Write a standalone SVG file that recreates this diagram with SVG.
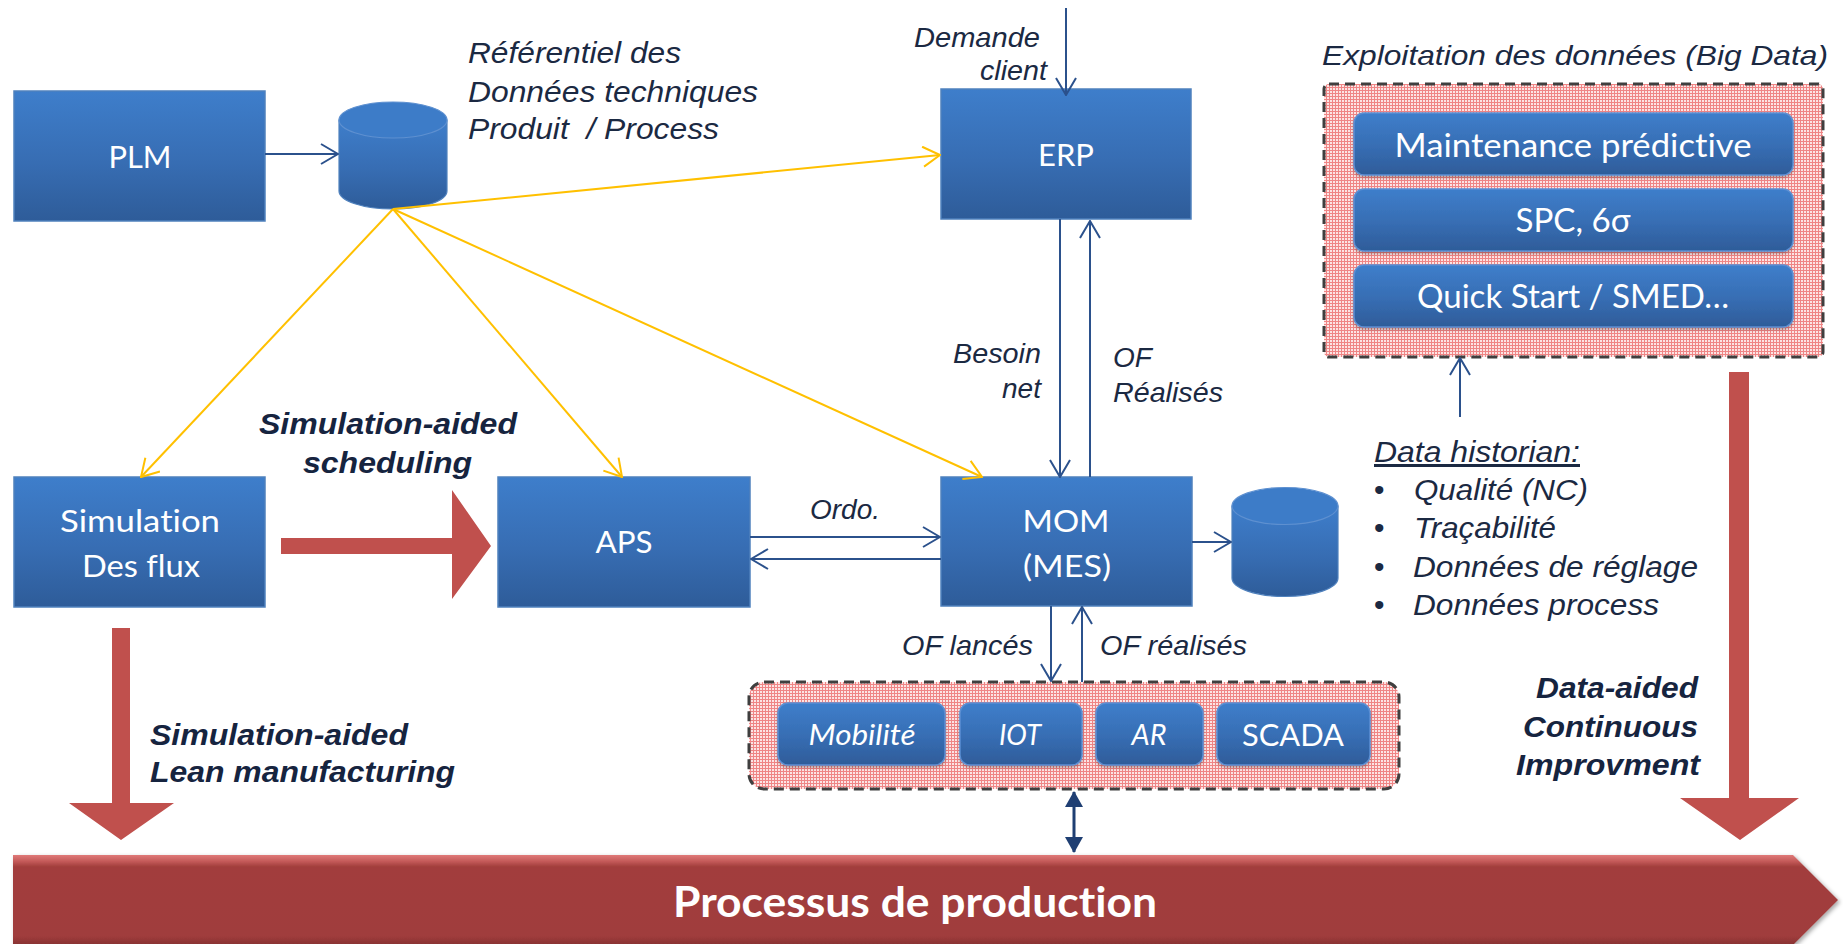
<svg xmlns="http://www.w3.org/2000/svg" width="1843" height="944" viewBox="0 0 1843 944">
  <style>
    .box { fill: url(#blueGrad); stroke: #4F81BD; stroke-width: 1.5; }
    .pill { fill: url(#blueGrad); stroke: #5B8FD3; stroke-width: 1.5; filter: url(#soft); }
    .cylBody { fill: url(#blueGrad); stroke: #4F81BD; stroke-width: 1.2; }
    .cylTop { fill: #3D7CC8; stroke: #5E90D0; stroke-width: 1.2; }
    .lbl { font-family: Lato, "Open Sans", sans-serif; fill: #FFFFFF; text-anchor: middle; font-variant-ligatures: none; }
    .note { font-family: "Liberation Sans", Arial, sans-serif; font-style: italic; fill: #1B2942; }
    .strong { font-family: "Liberation Sans", Arial, sans-serif; font-style: italic; font-weight: bold; fill: #16243F; }
    .blue { fill: none; stroke: #2B518C; stroke-width: 2; }
    .gold { fill: none; stroke: #FFC000; stroke-width: 2; }
    .zone { fill: url(#hatch); stroke: #3F3F3F; stroke-width: 3; stroke-dasharray: 10 6; }
    .red { fill: #C0504D; }
  </style>
  <defs>
    <linearGradient id="blueGrad" x1="0" y1="0" x2="0" y2="1">
      <stop offset="0" stop-color="#3E7ECB"/>
      <stop offset="0.55" stop-color="#376DB3"/>
      <stop offset="1" stop-color="#2E5C99"/>
    </linearGradient>
    <linearGradient id="barGrad" x1="0" y1="0" x2="0" y2="1">
      <stop offset="0" stop-color="#E07A79"/>
      <stop offset="0.07" stop-color="#C45A59"/>
      <stop offset="0.13" stop-color="#A23E3D"/>
      <stop offset="0.9" stop-color="#A03C3C"/>
      <stop offset="1" stop-color="#873232"/>
    </linearGradient>
    <pattern id="hatch" width="3" height="3" patternUnits="userSpaceOnUse">
      <rect width="3" height="3" fill="#FCE4E4"/>
      <rect width="3" height="1" fill="#EF8585"/>
      <rect width="1" height="3" fill="#EF8585"/>
    </pattern>
    <filter id="soft" x="-5%" y="-10%" width="110%" height="130%">
      <feDropShadow dx="0" dy="2" stdDeviation="1.5" flood-color="#000000" flood-opacity="0.3"/>
    </filter>
    <filter id="barShadow" x="-2%" y="-10%" width="104%" height="130%">
      <feDropShadow dx="2" dy="2" stdDeviation="2" flood-color="#000000" flood-opacity="0.35"/>
    </filter>
    <marker id="openBlue" viewBox="0 0 19 22" refX="18" refY="11" markerWidth="19" markerHeight="22" markerUnits="userSpaceOnUse" orient="auto">
      <path d="M1,1 L18,11 L1,21" fill="none" stroke="#2B518C" stroke-width="2"/>
    </marker>
    <marker id="openGold" viewBox="0 0 19 22" refX="18" refY="11" markerWidth="19" markerHeight="22" markerUnits="userSpaceOnUse" orient="auto">
      <path d="M1,1 L18,11 L1,21" fill="none" stroke="#FFC000" stroke-width="2"/>
    </marker>
    <marker id="solidNavy" viewBox="0 0 16 18" refX="15" refY="9" markerWidth="16" markerHeight="18" markerUnits="userSpaceOnUse" orient="auto-start-reverse">
      <path d="M0,0 L16,9 L0,18 Z" fill="#1F3F73"/>
    </marker>
  </defs>

  <rect width="1843" height="944" fill="#FFFFFF"/>

  <!-- dashed grouping zones -->
  <g id="bigdata-zone">
    <rect class="zone" x="1324" y="84" width="499" height="273" rx="5"/>
  </g>
  <g id="field-zone">
    <rect class="zone" x="749" y="682" width="650" height="107" rx="15"/>
  </g>

  <!-- production process bar -->
  <g id="production">
    <polygon points="13,855 1793,855 1838,900 1793,945 13,945" fill="url(#barGrad)" filter="url(#barShadow)"/>
    <text x="915" y="917" class="lbl" font-size="42" font-weight="bold" textLength="484" lengthAdjust="spacingAndGlyphs">Processus de production</text>
  </g>

  <!-- wide red arrows -->
  <g id="flow-arrows">
    <polygon class="red" points="281,538 452,538 452,490 491,546 452,599 452,554 281,554"/>
    <polygon class="red" points="112,628 130,628 130,803 174,803 121,840 69,803 112,803"/>
    <polygon class="red" points="1729,372 1749,372 1749,798 1799,798 1740,840 1680,798 1729,798"/>
  </g>

  <!-- nodes -->
  <g id="plm">
    <rect class="box" x="14" y="91" width="251" height="130"/>
    <text x="140" y="168" class="lbl" font-size="30" textLength="63" lengthAdjust="spacingAndGlyphs">PLM</text>
  </g>
  <g id="db-technical">
    <path class="cylBody" d="M339,120 L339,191 A54,18 0 0 0 447,191 L447,120 Z"/>
    <ellipse class="cylTop" cx="393" cy="120" rx="54" ry="18"/>
  </g>
  <g id="erp">
    <rect class="box" x="941" y="89" width="250" height="130"/>
    <text x="1066" y="166" class="lbl" font-size="30" textLength="56" lengthAdjust="spacingAndGlyphs">ERP</text>
  </g>
  <g id="simulation">
    <rect class="box" x="14" y="477" width="251" height="130"/>
    <text x="140" y="532" class="lbl" font-size="30" textLength="160" lengthAdjust="spacingAndGlyphs">Simulation</text>
    <text x="141" y="577" class="lbl" font-size="30" textLength="118" lengthAdjust="spacingAndGlyphs">Des flux</text>
  </g>
  <g id="aps">
    <rect class="box" x="498" y="477" width="252" height="130"/>
    <text x="624" y="553" class="lbl" font-size="30" textLength="57" lengthAdjust="spacingAndGlyphs">APS</text>
  </g>
  <g id="mom">
    <rect class="box" x="941" y="477" width="251" height="129"/>
    <text x="1066" y="532" class="lbl" font-size="30" textLength="87" lengthAdjust="spacingAndGlyphs">MOM</text>
    <text x="1067" y="577" class="lbl" font-size="30" textLength="88" lengthAdjust="spacingAndGlyphs">(MES)</text>
  </g>
  <g id="db-historian">
    <path class="cylBody" d="M1232,506 L1232,578 A53,18.5 0 0 0 1338,578 L1338,506 Z"/>
    <ellipse class="cylTop" cx="1285" cy="506" rx="53" ry="18.5"/>
  </g>
  <g id="maintenance">
    <rect class="pill" x="1354" y="113" width="439" height="62" rx="10"/>
    <text x="1573" y="157" class="lbl" font-size="32" textLength="357" lengthAdjust="spacingAndGlyphs">Maintenance prédictive</text>
  </g>
  <g id="spc">
    <rect class="pill" x="1354" y="189" width="439" height="62" rx="10"/>
    <text x="1573" y="232" class="lbl" font-size="32" textLength="115" lengthAdjust="spacingAndGlyphs">SPC, 6σ</text>
  </g>
  <g id="smed">
    <rect class="pill" x="1354" y="265" width="439" height="62" rx="10"/>
    <text x="1573" y="308" class="lbl" font-size="32" textLength="312" lengthAdjust="spacingAndGlyphs">Quick Start / SMED…</text>
  </g>
  <g id="mobilite">
    <rect class="pill" x="778" y="703" width="167" height="62" rx="10"/>
    <text x="862" y="745" class="lbl" font-size="28" font-style="italic" textLength="107" lengthAdjust="spacingAndGlyphs">Mobilité</text>
  </g>
  <g id="iot">
    <rect class="pill" x="960" y="703" width="122" height="62" rx="10"/>
    <text x="1020" y="745" class="lbl" font-size="28" font-style="italic" textLength="42" lengthAdjust="spacingAndGlyphs">IOT</text>
  </g>
  <g id="ar">
    <rect class="pill" x="1096" y="703" width="107" height="62" rx="10"/>
    <text x="1149" y="745" class="lbl" font-size="28" font-style="italic" textLength="35" lengthAdjust="spacingAndGlyphs">AR</text>
  </g>
  <g id="scada">
    <rect class="pill" x="1217" y="703" width="153" height="62" rx="10"/>
    <text x="1293" y="746" class="lbl" font-size="31" textLength="102" lengthAdjust="spacingAndGlyphs">SCADA</text>
  </g>

  <!-- connectors -->
  <g id="connectors">
    <line class="gold" x1="393" y1="209" x2="940" y2="155" marker-end="url(#openGold)"/>
    <line class="gold" x1="393" y1="209" x2="141" y2="477" marker-end="url(#openGold)"/>
    <line class="gold" x1="393" y1="209" x2="622" y2="477" marker-end="url(#openGold)"/>
    <line class="gold" x1="393" y1="209" x2="982" y2="477" marker-end="url(#openGold)"/>

    <line class="blue" x1="265" y1="154" x2="338" y2="154" marker-end="url(#openBlue)"/>
    <line class="blue" x1="1066" y1="8" x2="1066" y2="95" marker-end="url(#openBlue)"/>
    <line class="blue" x1="1060" y1="219" x2="1060" y2="477" marker-end="url(#openBlue)"/>
    <line class="blue" x1="1090" y1="477" x2="1090" y2="221" marker-end="url(#openBlue)"/>
    <line class="blue" x1="750" y1="537" x2="940" y2="537" marker-end="url(#openBlue)"/>
    <line class="blue" x1="941" y1="559" x2="751" y2="559" marker-end="url(#openBlue)"/>
    <line class="blue" x1="1192" y1="542" x2="1231" y2="542" marker-end="url(#openBlue)"/>
    <line class="blue" x1="1051" y1="606" x2="1051" y2="681" marker-end="url(#openBlue)"/>
    <line class="blue" x1="1082" y1="682" x2="1082" y2="607" marker-end="url(#openBlue)"/>
    <line class="blue" x1="1460" y1="417" x2="1460" y2="358" marker-end="url(#openBlue)"/>
    <line x1="1074" y1="792" x2="1074" y2="852" stroke="#1F3F73" stroke-width="3" marker-start="url(#solidNavy)" marker-end="url(#solidNavy)"/>
  </g>

  <!-- annotations -->
  <g id="labels">
    <text class="note" font-size="29" x="468" y="63" textLength="213" lengthAdjust="spacingAndGlyphs">Référentiel des</text>
    <text class="note" font-size="29" x="468" y="102" textLength="290" lengthAdjust="spacingAndGlyphs">Données techniques</text>
    <text class="note" font-size="29" x="468" y="139" textLength="251" lengthAdjust="spacingAndGlyphs" xml:space="preserve">Produit  / Process</text>

    <text class="note" font-size="28" x="914" y="47" textLength="126" lengthAdjust="spacingAndGlyphs">Demande</text>
    <text class="note" font-size="28" x="980" y="80" textLength="67" lengthAdjust="spacingAndGlyphs">client</text>

    <text class="note" font-size="28" x="1322" y="65" textLength="506" lengthAdjust="spacingAndGlyphs">Exploitation des données (Big Data)</text>

    <text class="note" font-size="28" x="953" y="363" textLength="88" lengthAdjust="spacingAndGlyphs">Besoin</text>
    <text class="note" font-size="28" x="1002" y="398" textLength="39" lengthAdjust="spacingAndGlyphs">net</text>
    <text class="note" font-size="28" x="1113" y="367">OF</text>
    <text class="note" font-size="28" x="1113" y="402" textLength="110" lengthAdjust="spacingAndGlyphs">Réalisés</text>

    <text class="note" font-size="27" x="810" y="519" textLength="70" lengthAdjust="spacingAndGlyphs">Ordo.</text>

    <text class="note" font-size="28" x="902" y="655" textLength="131" lengthAdjust="spacingAndGlyphs">OF lancés</text>
    <text class="note" font-size="28" x="1100" y="655" textLength="147" lengthAdjust="spacingAndGlyphs">OF réalisés</text>

    <text class="note" font-size="30" x="1374" y="462" text-decoration="underline" textLength="206" lengthAdjust="spacingAndGlyphs">Data historian:</text>
    <text class="note" font-size="30" font-style="normal" x="1379" y="500" text-anchor="middle">•</text>
    <text class="note" font-size="30" font-style="normal" x="1379" y="538" text-anchor="middle">•</text>
    <text class="note" font-size="30" font-style="normal" x="1379" y="577" text-anchor="middle">•</text>
    <text class="note" font-size="30" font-style="normal" x="1379" y="615" text-anchor="middle">•</text>
    <text class="note" font-size="30" x="1414" y="500" textLength="174" lengthAdjust="spacingAndGlyphs">Qualité (NC)</text>
    <text class="note" font-size="30" x="1414" y="538" textLength="142" lengthAdjust="spacingAndGlyphs">Traçabilité</text>
    <text class="note" font-size="30" x="1413" y="577" textLength="285" lengthAdjust="spacingAndGlyphs">Données de réglage</text>
    <text class="note" font-size="30" x="1413" y="615" textLength="246" lengthAdjust="spacingAndGlyphs">Données process</text>

    <text class="strong" font-size="29" x="259" y="434" textLength="258" lengthAdjust="spacingAndGlyphs">Simulation-aided</text>
    <text class="strong" font-size="29" x="303" y="473" textLength="169" lengthAdjust="spacingAndGlyphs">scheduling</text>

    <text class="strong" font-size="29" x="150" y="745" textLength="258" lengthAdjust="spacingAndGlyphs">Simulation-aided</text>
    <text class="strong" font-size="29" x="150" y="782" textLength="305" lengthAdjust="spacingAndGlyphs">Lean manufacturing</text>

    <text class="strong" font-size="29" x="1536" y="698" textLength="162" lengthAdjust="spacingAndGlyphs">Data-aided</text>
    <text class="strong" font-size="29" x="1523" y="737" textLength="175" lengthAdjust="spacingAndGlyphs">Continuous</text>
    <text class="strong" font-size="29" x="1516" y="775" textLength="184" lengthAdjust="spacingAndGlyphs">Improvment</text>
  </g>
</svg>
